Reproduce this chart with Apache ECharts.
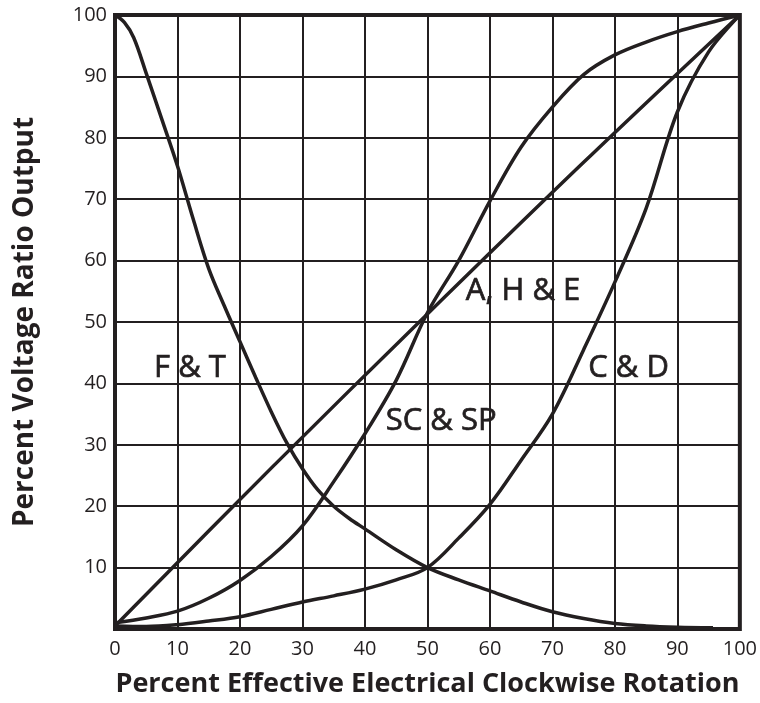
<!DOCTYPE html>
<html>
<head>
<meta charset="utf-8">
<script src="https://cdn.jsdelivr.net/npm/echarts@6/dist/echarts.min.js"></script>
<style>html,body{margin:0;padding:0;background:#fff}#c{width:760px;height:703px}</style>
</head>
<body>
<div id="c"></div>
<script>
// ---- data ----
const xTickValues = [0,10,20,30,40,50,60,70,80,90,100];
const yTickValues = [10,20,30,40,50,60,70,80,90,100];

const ftX = [0,1.5,3,5,7.5,10,12.5,15,17.5,20,22.5,25,27.5,30,32.5,35,37.5,40,45,50,55,60,65,70,75,80,85,90,95.7];
const ftY = [100,98.8,96.3,90.5,83,75.4,66.8,58.7,52.6,46.8,41,35.4,30.3,26.1,22.6,20,18,16.3,12.9,10,8,6.2,4.4,2.8,1.7,0.9,0.5,0.3,0.2];

const scX = [0,5,10,15,20,25,30,35,40,45,50,55,60,65,70,75,80,85,90,95,100];
const scY = [1,1.8,2.9,5,7.9,11.8,16.8,24,31.8,40.5,51.5,60,69.7,78.5,85,90.3,93.5,95.6,97.3,98.7,100];

const ahX = [0,25,50,75,100];
const ahY = [0.5,26.2,51.3,76,100];

const cdX = [0,5,10,15,20,25,30,35,40,45,50,55,60,65,70,75,80,85,90,95,100];
const cdY = [0.5,0.4,0.7,1.3,2,3.2,4.4,5.4,6.5,8,10,14.8,20.3,27.5,35,45.5,56.5,68.5,84.2,94,100];

const curveNames = ['F & T','SC & SP','A, H & E','C & D'];
const curveLabelX = [12,52.2,65.3,82.2];
const curveLabelY = [42.5,33.9,55,42.5];

// ---- chart ----
const INK = '#231f20';
const zip = (xs, ys) => xs.map((x, i) => [x, ys[i]]);
const lineSeries = (name, xs, ys) => ({
  name, type: 'line', data: zip(xs, ys), smooth: 0.35, showSymbol: false,
  lineStyle: { color: INK, width: 3.5 }, z: 5, silent: true
});

const chart = echarts.init(document.getElementById('c'), null, { renderer: 'canvas' });
chart.setOption({
  animation: false,
  backgroundColor: '#ffffff',
  grid: { left: 115, right: 20, top: 15, bottom: 71, show: true, borderColor: INK, borderWidth: 4, backgroundColor: 'transparent' },
  xAxis: {
    type: 'value', min: 0, max: 100, interval: 10,
    name: 'Percent Effective Electrical Clockwise Rotation',
    nameLocation: 'middle', nameGap: 42,
    nameTextStyle: { fontFamily: 'Open Sans', fontWeight: 'bold', fontSize: 27, color: INK },
    axisLine: { show: false }, axisTick: { show: false },
    axisLabel: { fontFamily: 'Open Sans', fontSize: 20, color: INK, margin: 10,
      formatter: v => xTickValues.includes(v) ? String(v) : '' },
    splitLine: { show: true, lineStyle: { color: INK, width: 2 } }
  },
  yAxis: {
    type: 'value', min: 0, max: 100, interval: 10,
    name: 'Percent Voltage Ratio Output',
    nameLocation: 'middle', nameGap: 76,
    nameTextStyle: { fontFamily: 'Open Sans', fontWeight: 'bold', fontSize: 28, color: INK },
    axisLine: { show: false }, axisTick: { show: false },
    axisLabel: { fontFamily: 'Open Sans', fontSize: 20, color: INK, margin: 8,
      formatter: v => yTickValues.includes(v) ? String(v) : '' },
    splitLine: { show: true, lineStyle: { color: INK, width: 2 } }
  },
  series: [
    lineSeries('F & T', ftX, ftY),
    lineSeries('SC & SP', scX, scY),
    lineSeries('A, H & E', ahX, ahY),
    lineSeries('C & D', cdX, cdY)
  ]
});

chart.setOption({
  graphic: curveNames.map((n, i) => {
    const p = chart.convertToPixel({ gridIndex: 0 }, [curveLabelX[i], curveLabelY[i]]);
    return {
      type: 'text', x: p[0], y: p[1], z: 10, silent: true,
      style: { text: n, fill: INK, stroke: INK, lineWidth: 0.7, font: '31px "Open Sans"', align: 'center', verticalAlign: 'middle' }
    };
  })
});
</script>
</body>
</html>
